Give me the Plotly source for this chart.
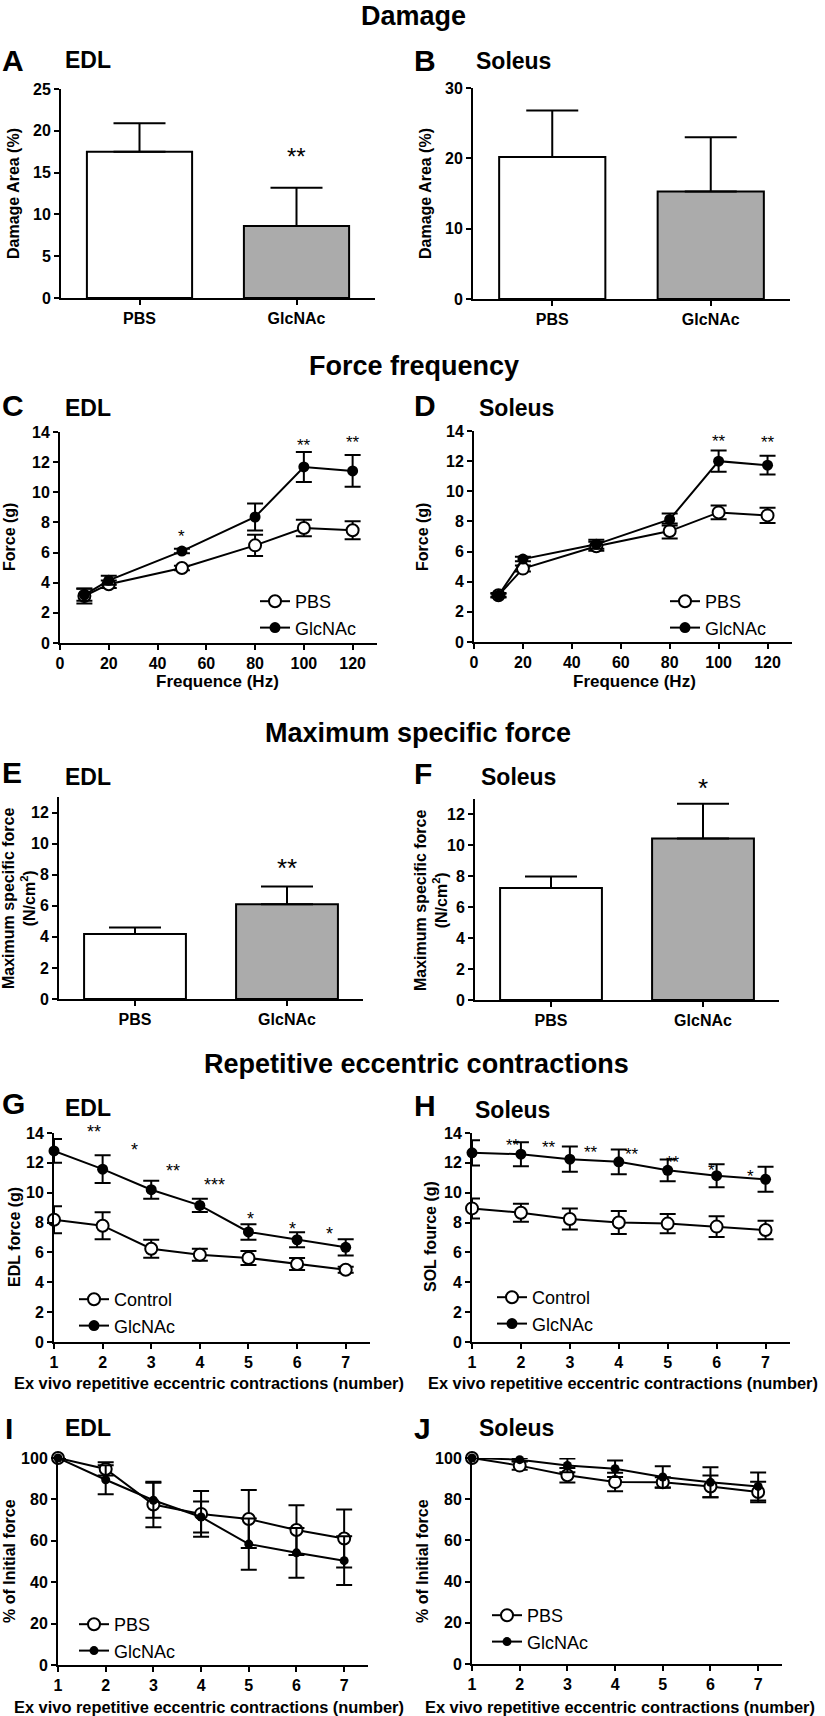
import plotly.graph_objects as go

W, H = 825, 1716
FONT = "Liberation Sans, Arial, Helvetica, sans-serif"

# ---------------- data ----------------
bar_groups = ["PBS", "GlcNAc"]
damage_edl = [17.5, 8.6]
damage_edl_sem = [3.4, 4.6]
damage_sol = [20.2, 15.3]
damage_sol_sem = [6.6, 7.7]
msf_edl = [4.18, 6.1]
msf_edl_sem = [0.42, 1.14]
msf_sol = [7.24, 10.44]
msf_sol_sem = [0.74, 2.25]

freq_hz = [10, 20, 50, 80, 100, 120]
ff_edl_pbs = [3.12, 3.9, 4.98, 6.48, 7.63, 7.48]
ff_edl_pbs_sem = [0.5, 0.25, 0.15, 0.7, 0.55, 0.6]
ff_edl_glc = [3.2, 4.16, 6.1, 8.36, 11.68, 11.42]
ff_edl_glc_sem = [0.4, 0.3, 0.15, 0.9, 1.0, 1.05]
ff_sol_pbs = [3.1, 4.87, 6.35, 7.36, 8.6, 8.4]
ff_sol_pbs_sem = [0.15, 0.2, 0.3, 0.5, 0.45, 0.5]
ff_sol_glc = [3.1, 5.5, 6.48, 8.13, 12.0, 11.73]
ff_sol_glc_sem = [0.1, 0.15, 0.3, 0.4, 0.7, 0.62]

contraction_n = [1, 2, 3, 4, 5, 6, 7]
ecc_edl_ctrl = [8.19, 7.79, 6.25, 5.85, 5.63, 5.22, 4.84]
ecc_edl_ctrl_sem = [0.9, 0.9, 0.6, 0.4, 0.47, 0.4, 0.2]
ecc_edl_glc = [12.8, 11.58, 10.2, 9.15, 7.37, 6.85, 6.34]
ecc_edl_glc_sem = [0.8, 0.93, 0.6, 0.45, 0.52, 0.5, 0.55]
ecc_sol_ctrl = [8.95, 8.66, 8.24, 8.0, 7.93, 7.73, 7.5]
ecc_sol_ctrl_sem = [0.67, 0.6, 0.7, 0.77, 0.65, 0.7, 0.62]
ecc_sol_glc = [12.67, 12.58, 12.25, 12.07, 11.5, 11.14, 10.9]
ecc_sol_glc_sem = [0.85, 0.8, 0.85, 0.83, 0.73, 0.77, 0.84]

pct_edl_pbs = [100, 94.7, 77.5, 73, 70.5, 65.2, 61.1]
pct_edl_pbs_sem = [0, 3.2, 11, 11, 14, 12, 14]
pct_edl_glc = [100, 89.5, 79.6, 71.5, 58.4, 54.2, 50.4]
pct_edl_glc_sem = [0, 7, 8.5, 7.5, 12.4, 12, 11.8]
pct_sol_pbs = [100, 96.3, 91.6, 88.3, 88.2, 86.2, 83.5]
pct_sol_pbs_sem = [0, 2, 3.5, 4.5, 2.5, 5.3, 5]
pct_sol_glc = [100, 99.2, 96.4, 94.8, 90.8, 88.2, 86.2]
pct_sol_glc_sem = [0, 0.8, 3.3, 4, 5.2, 7.3, 6.8]

# significance stars: (x, y, label)
stars_a = [("GlcNAc", 17.7, "**")]
stars_c = [(50, 7.37, "*"), (100, 13.4, "**"), (120, 13.56, "**")]
stars_d = [(100, 13.6, "**"), (120, 13.5, "**")]
stars_e = [("GlcNAc", 8.85, "**")]
stars_f = [("GlcNAc", 14.1, "*")]
stars_g = [(1.82, 14.4, "**"), (2.65, 13.17, "*"), (3.44, 11.76, "**"), (4.3, 10.83, "***"),
           (5.04, 8.53, "*"), (5.9, 7.9, "*"), (6.67, 7.52, "*")]
stars_h = [(1.84, 13.44, "**"), (2.58, 13.33, "**"), (3.44, 13.0, "**"), (4.28, 12.85, "**"),
           (5.1, 12.3, "**"), (5.9, 11.78, "*"), (6.7, 11.4, "*")]

# ---------------- layout helpers ----------------
def dx(a, b):
    return [a / W, b / W]

def dy(top, bottom):
    return [1 - bottom / H, 1 - top / H]

# panel plot areas in px: (x0, x1, ytop, ybottom)
boxes = {
    1: (61, 375, 89, 298),
    2: (473, 790, 88, 299),
    3: (60, 377, 432, 643),
    4: (474, 792, 431, 642),
    5: (59, 363, 797, 999),
    6: (475, 779, 799, 1000),
    7: (54, 370, 1133, 1342),
    8: (472, 790, 1133, 1342),
    9: (58, 368, 1458, 1665),
    10: (472, 782, 1458, 1664),
}
ymax = {}

fig = go.Figure()

TICKFONT = dict(family=FONT, size=16, color="black", weight="bold")
axis_common = dict(showline=True, linecolor="black", linewidth=2, ticks="outside",
                   ticklen=5, tickwidth=2, tickcolor="black", showgrid=False,
                   zeroline=False, tickfont=TICKFONT, fixedrange=True, automargin=False)

def sfx(i):
    return "" if i == 1 else str(i)

def add_bar_panel(i, vals, sems, yrange, dtick):
    fig.add_trace(go.Bar(
        x=bar_groups, y=vals, width=0.67,
        marker=dict(color=["white", "#ababab"], line=dict(color="black", width=2)),
        error_y=dict(type="data", array=sems, arrayminus=[0] * len(sems), symmetric=False,
                     color="black", thickness=2, width=26),
        showlegend=False, xaxis="x" + sfx(i), yaxis="y" + sfx(i)))
    x0, x1, t, b = boxes[i]
    ymax[i] = yrange[1]
    fig.layout["xaxis" + sfx(i)] = dict(axis_common, domain=dx(x0, x1), anchor="y" + sfx(i),
                                       range=[-0.5, 1.5], type="category")
    fig.layout["yaxis" + sfx(i)] = dict(axis_common, domain=dy(t, b), anchor="x" + sfx(i),
                                       range=yrange, tickmode="linear", tick0=0, dtick=dtick)

def add_line_panel(i, xs, s1, e1, s2, e2, names, legname, xrange, tickvals, yrange, dtick,
                   filled_size=11):
    ax, ay = "x" + sfx(i), "y" + sfx(i)
    fig.add_trace(go.Scatter(
        x=xs, y=s1, mode="lines+markers", name=names[0], legend=legname,
        line=dict(color="black", width=2),
        marker=dict(symbol="circle", size=12, color="white", line=dict(color="black", width=2)),
        error_y=dict(type="data", array=e1, color="black", thickness=2, width=8),
        cliponaxis=False, xaxis=ax, yaxis=ay))
    fig.add_trace(go.Scatter(
        x=xs, y=s2, mode="lines+markers", name=names[1], legend=legname,
        line=dict(color="black", width=2),
        marker=dict(symbol="circle", size=filled_size, color="black", line=dict(color="black", width=0)),
        error_y=dict(type="data", array=e2, color="black", thickness=2, width=8),
        cliponaxis=False, xaxis=ax, yaxis=ay))
    x0, x1, t, b = boxes[i]
    ymax[i] = yrange[1]
    fig.layout["xaxis" + sfx(i)] = dict(axis_common, domain=dx(x0, x1), anchor=ay,
                                       range=xrange, tickmode="array", tickvals=tickvals)
    fig.layout["yaxis" + sfx(i)] = dict(axis_common, domain=dy(t, b), anchor=ax,
                                       range=yrange, tickmode="linear", tick0=0, dtick=dtick)

add_bar_panel(1, damage_edl, damage_edl_sem, [0, 25], 5)
add_bar_panel(2, damage_sol, damage_sol_sem, [0, 30], 10)
add_line_panel(3, freq_hz, ff_edl_pbs, ff_edl_pbs_sem, ff_edl_glc, ff_edl_glc_sem,
               ["PBS", "GlcNAc"], "legend", [0, 130], [0, 20, 40, 60, 80, 100, 120], [0, 14], 2)
add_line_panel(4, freq_hz, ff_sol_pbs, ff_sol_pbs_sem, ff_sol_glc, ff_sol_glc_sem,
               ["PBS", "GlcNAc"], "legend2", [0, 130], [0, 20, 40, 60, 80, 100, 120], [0, 14], 2)
add_bar_panel(5, msf_edl, msf_edl_sem, [0, 13], 2)
add_bar_panel(6, msf_sol, msf_sol_sem, [0, 13], 2)
add_line_panel(7, contraction_n, ecc_edl_ctrl, ecc_edl_ctrl_sem, ecc_edl_glc, ecc_edl_glc_sem,
               ["Control", "GlcNAc"], "legend3", [1, 7.5], contraction_n, [0, 14], 2)
add_line_panel(8, contraction_n, ecc_sol_ctrl, ecc_sol_ctrl_sem, ecc_sol_glc, ecc_sol_glc_sem,
               ["Control", "GlcNAc"], "legend4", [1, 7.5], contraction_n, [0, 14], 2)
add_line_panel(9, contraction_n, pct_edl_pbs, pct_edl_pbs_sem, pct_edl_glc, pct_edl_glc_sem,
               ["PBS", "GlcNAc"], "legend5", [1, 7.5], contraction_n, [0, 100], 20, filled_size=9)
add_line_panel(10, contraction_n, pct_sol_pbs, pct_sol_pbs_sem, pct_sol_glc, pct_sol_glc_sem,
               ["PBS", "GlcNAc"], "legend6", [1, 7.5], contraction_n, [0, 100], 20, filled_size=9)

# legends: (name, marker-centre x px, first item centre y px)
leg_pos = {"legend": (267, 595), "legend2": (677, 595), "legend3": (86, 1293),
           "legend4": (504, 1291), "legend5": (86, 1618), "legend6": (499, 1609)}
for name, (mx, my) in leg_pos.items():
    fig.layout[name] = dict(x=(mx - 12) / W, y=1 - (my - 12) / H, xanchor="left", yanchor="top",
                            xref="paper", yref="paper", bgcolor="rgba(0,0,0,0)",
                            font=dict(family=FONT, size=18, color="black"), borderwidth=0)

annotations = []

def text(t, x, y, size, bold=True, xanchor="center", angle=0):
    annotations.append(dict(text=("<b>%s</b>" % t) if bold else t, x=x / W, y=1 - y / H,
                            xref="paper", yref="paper", showarrow=False, xanchor=xanchor,
                            yanchor="middle", textangle=angle,
                            font=dict(family=FONT, size=size, color="black")))

# section titles
text("Damage", 413, 16, 27)
text("Force frequency", 414, 366, 27)
text("Maximum specific force", 418, 733, 27)
text("Repetitive eccentric contractions", 416, 1064, 27)

# panel letters and subtitles
letters = [("A", 0, 60, "EDL", 63, 60), ("B", 412, 60, "Soleus", 474, 61),
           ("C", 0, 405, "EDL", 63, 408), ("D", 412, 405, "Soleus", 477, 408),
           ("E", 0, 772, "EDL", 63, 777), ("F", 412, 773, "Soleus", 479, 777),
           ("G", 0, 1103, "EDL", 63, 1108), ("H", 412, 1105, "Soleus", 473, 1110),
           ("I", 3, 1428, "EDL", 63, 1428), ("J", 412, 1428, "Soleus", 477, 1428)]
for L, lx, ly, s, sx, sy in letters:
    text(L, lx, ly, 30, xanchor="left")
    text(s, sx, sy, 23, xanchor="left")

# axis titles
text("Damage Area (%)", 13, 194, 16, angle=-90)
text("Damage Area (%)", 425, 194, 16, angle=-90)
text("Force (g)", 9, 537, 16, angle=-90)
text("Force (g)", 422, 537, 16, angle=-90)
text("Frequence (Hz)", 218, 682, 17)
text("Frequence (Hz)", 634, 682, 17)
text("Maximum specific force<br>(N/cm<sup>2</sup>)", 19, 898, 16, angle=-90)
text("Maximum specific force<br>(N/cm<sup>2</sup>)", 431, 900, 16, angle=-90)
text("EDL force (g)", 14, 1237, 16, angle=-90)
text("SOL fource (g)", 430, 1237, 16, angle=-90)
xt = "Ex vivo repetitive eccentric contractions (number)"
text(xt, 12, 1383, 16.4, xanchor="left")
text(xt, 820, 1383, 16.4, xanchor="right")
text(xt, 12, 1707, 16.4, xanchor="left")
text(xt, 817, 1707, 16.4, xanchor="right")
text("% of Initial force", 9, 1561, 16, angle=-90)
text("% of Initial force", 422, 1561, 16, angle=-90)

# significance stars: x in data units, y as fraction of the y-axis range
def stars(i, lst, size):
    for x, y, s in lst:
        annotations.append(dict(text=s, x=x, y=y / ymax[i], xref="x" + sfx(i),
                                yref="y" + sfx(i) + " domain",
                                showarrow=False, xanchor="center", yanchor="middle",
                                yshift=-0.25 * size,
                                font=dict(family=FONT, size=size, color="black")))

stars(1, stars_a, 24)
stars(3, stars_c, 17)
stars(4, stars_d, 17)
stars(5, stars_e, 26)
stars(6, stars_f, 26)
stars(7, stars_g, 18)
stars(8, stars_h, 17)

fig.update_layout(
    width=W, height=H, margin=dict(l=0, r=0, t=0, b=0, pad=0, autoexpand=False),
    paper_bgcolor="white", plot_bgcolor="white",
    annotations=annotations, bargap=0.33,
    font=dict(family=FONT, color="black"),
)

fig.write_html("out.html", config={"displayModeBar": False},
               post_script="document.body.style.margin='0px';document.body.style.overflow='hidden';")
